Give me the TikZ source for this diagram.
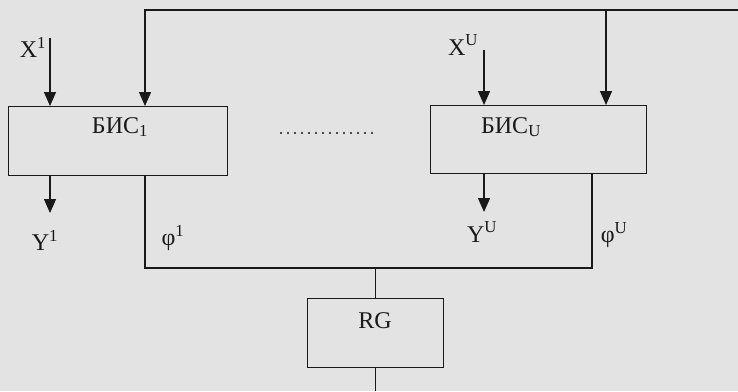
\documentclass[tikz,border=0pt]{standalone}
\usepackage{fontspec}
\setmainfont{Liberation Serif}
\usetikzlibrary{arrows.meta}
\definecolor{bg}{gray}{0.89}
\definecolor{ink}{gray}{0.1}
\begin{document}
\begin{tikzpicture}[x=1pt,y=-1pt,
  line width=1.4pt,
  box/.style={draw=ink,inner sep=0pt,anchor=north west},
  lbl/.style={inner sep=0pt,font=\fontsize{24}{28}\selectfont,text=ink},
  arr/.style={-{Triangle[width=12pt,length=14pt]}},
  wire/.style={draw=ink}]
\fill[bg] (0,0) rectangle (738,391);
\useasboundingbox (0,0) rectangle (738,391);
% boxes
\node[box,minimum width=219pt,minimum height=69pt] (b1) at (8,106) {};
\node[box,minimum width=216pt,minimum height=68pt] (bU) at (430,105) {};
\node[box,minimum width=136pt,minimum height=69pt] (rg) at (307,298) {};
\node[lbl] (b1t) at (120,127) {БИС\textsubscript{1}};
\node[lbl] (bUt) at (511,127) {БИС\textsubscript{U}};
\node[lbl] (rgt) at (375,321) {RG};
% labels
\node[lbl] (x1) at (33,47) {X\textsuperscript{1}};
\node[lbl] (xU) at (463,45) {X\textsuperscript{U}};
\node[lbl] (y1) at (45,240) {Y\textsuperscript{1}};
\node[lbl] (yU) at (482,232) {Y\textsuperscript{U}};
\node[lbl] (p1) at (173,238) {φ\textsuperscript{1}};
\node[lbl] (pU) at (614,235) {φ\textsuperscript{U}};
% coordinates
\coordinate (busR) at (738,10);
\coordinate (busL) at (145,10);
\coordinate (busJ) at (606,10);
\coordinate (x1s) at (50,38);
\coordinate (xUs) at (484,50);
\coordinate (y1e) at (50,213);
\coordinate (yUe) at (484,212);
\coordinate (p1c) at (145,268);
\coordinate (pUc) at (592,268);
\coordinate (rgj) at (375.5,268);
\coordinate (out) at (375.5,391);
\coordinate (d1) at (281,133);
\coordinate (d2) at (373,133);
% connectors
\draw[wire,arr] (busR) -- (busL) -- (busL |- b1.north);
\draw[wire,arr] (busJ) -- (busJ |- bU.north);
\draw[wire,arr] (x1s) -- (x1s |- b1.north);
\draw[wire,arr] (xUs) -- (xUs |- bU.north);
\draw[wire,arr] (y1e |- b1.south) -- (y1e);
\draw[wire,arr] (yUe |- bU.south) -- (yUe);
\draw[wire] (p1c |- b1.south) -- (p1c) -- (pUc) -- (pUc |- bU.south);
\draw[wire] (rgj) -- (rgj |- rg.north);
\draw[wire] (rgj |- rg.south) -- (out);
\draw[ink,line width=2.2pt,line cap=round,dash pattern=on 0pt off 7pt] (d1) -- (d2);
\end{tikzpicture}
\end{document}
